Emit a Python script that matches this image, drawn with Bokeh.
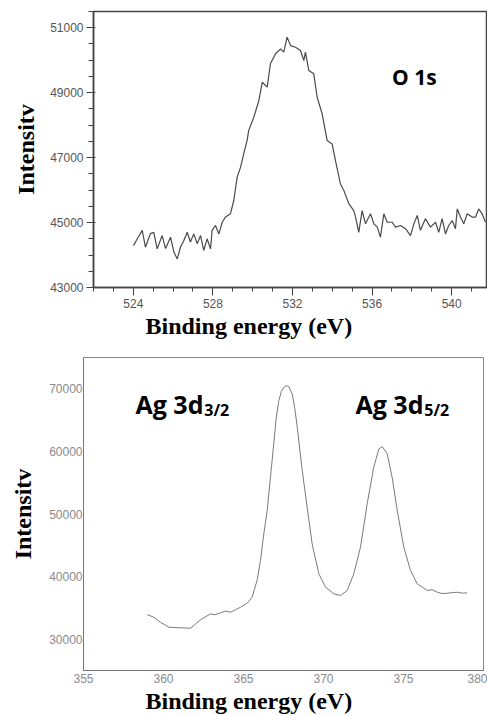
from bokeh.plotting import figure
from bokeh.models import Range1d, FixedTicker, Label, Title
from bokeh.layouts import column, row
from bokeh.embed import file_html
from bokeh.resources import INLINE

# ---------------- O 1s spectrum ----------------
o1s_energy = [524.01, 524.20, 524.45, 524.61, 524.86, 525.03, 525.20, 525.45, 525.62, 525.87,
              526.04, 526.21, 526.37, 526.54, 526.71, 526.87, 527.04, 527.21, 527.38, 527.54,
              527.71, 527.88, 527.96, 528.13, 528.30, 528.47, 528.63, 528.88, 529.05, 529.22,
              529.39, 529.55, 529.72, 529.80, 530.06, 530.31, 530.48, 530.73, 530.89, 531.15,
              531.40, 531.56, 531.73, 531.90, 532.15, 532.40, 532.57, 532.65, 532.82, 533.07,
              533.24, 533.49, 533.74, 533.99, 534.16, 534.41, 534.58, 534.83, 535.08, 535.17,
              535.33, 535.50, 535.67, 535.92, 536.09, 536.26, 536.42, 536.59, 536.76, 537.01,
              537.18, 537.43, 537.68, 537.93, 538.10, 538.27, 538.43, 538.68, 538.93, 539.19,
              539.35, 539.52, 539.69, 539.85, 540.03, 540.19, 540.28, 540.44, 540.61, 540.78,
              541.03, 541.20, 541.36, 541.53, 541.70]
o1s_intensity = [44290, 44500, 44760, 44240, 44660, 44700, 44190, 44600, 44200, 44550,
                 44090, 43880, 44240, 44450, 44700, 44400, 44650, 44350, 44600, 44140,
                 44500, 44190, 44760, 44910, 44650, 45010, 45170, 45270, 45680, 46400,
                 46700, 47120, 47530, 47840, 48250, 48760, 49320, 49170, 49890, 50200,
                 50350, 50250, 50710, 50450, 50400, 50300, 49990, 50250, 49680, 49580,
                 48860, 48350, 47530, 47420, 46910, 46190, 45990, 45580, 45370, 45170,
                 44700, 45370, 44960, 45270, 44960, 44860, 44550, 45270, 45010, 45010,
                 44860, 44910, 44810, 44600, 44960, 45220, 44760, 45120, 44860, 45010,
                 44700, 45120, 44650, 44910, 45060, 44810, 45420, 45170, 44960, 45270,
                 45170, 45170, 45420, 45270, 45010]
o1s_x_ticks = [524, 528, 532, 536, 540]
o1s_x_minor = list(range(522, 542))
o1s_y_ticks = [43000, 45000, 47000, 49000, 51000]
o1s_y_minor = list(range(43000, 51501, 500))

# ---------------- Ag 3d spectrum ----------------
ag_energy = [358.98, 359.39, 359.81, 360.33, 361.06, 361.69, 361.89, 362.31, 362.94, 363.20,
             363.56, 363.90, 364.19, 364.50, 364.81, 365.23, 365.54, 365.86, 366.06, 366.27,
             366.48, 366.89, 367.05, 367.21, 367.37, 367.52, 367.68, 367.83, 368.04, 368.20,
             368.36, 368.67, 368.98, 369.29, 369.71, 370.13, 370.65, 371.06, 371.48, 371.89,
             372.31, 372.73, 373.14, 373.46, 373.67, 373.98, 374.29, 374.61, 375.02, 375.44,
             375.86, 376.48, 376.80, 377.11, 377.40, 377.73, 378.05, 378.36, 378.70, 378.98]
ag_intensity = [33940, 33510, 32710, 31920, 31820, 31760, 32190, 33100, 34050, 33900,
                34210, 34500, 34310, 34700, 35110, 35750, 36710, 39500, 42570, 46830,
                50550, 61200, 65500, 68120, 69600, 70240, 70500, 70350, 69190, 67000,
                63860, 56940, 51080, 45230, 40440, 38300, 37250, 36980, 37780, 40440,
                44690, 51620, 57470, 60400, 60770, 59610, 55870, 50550, 44690, 40970,
                38850, 37780, 37900, 37500, 37300, 37340, 37450, 37500, 37350, 37410]
ag_x_ticks = [355, 360, 365, 370, 375, 380]
ag_y_ticks = [30000, 40000, 50000, 60000, 70000]

SERIF = "Liberation Serif"
SANS = "Liberation Sans"

# ---------------- top figure ----------------
p1 = figure(width=487, height=340, output_backend="svg", toolbar_location=None,
            x_range=Range1d(522, 541.8), y_range=Range1d(43000, 51500),
            min_border_left=93, min_border_right=0, min_border_top=11, min_border_bottom=53)
# frame box: its right side falls on the page edge, as in the cut-off reference
p1.outline_line_color = "#444444"
p1.outline_line_width = 1.5
p1.grid.visible = False
p1.line(o1s_energy, o1s_intensity, line_color="#4a4a4a", line_width=1.2)

xa = p1.below[0]
xa.ticker = FixedTicker(ticks=o1s_x_ticks, minor_ticks=o1s_x_minor)
xa.axis_line_color = "#444444"
xa.axis_line_width = 1.5
xa.major_tick_out = 8
xa.major_tick_in = 0
xa.minor_tick_out = 4
xa.minor_tick_in = 0
xa.major_tick_line_color = "#444444"
xa.minor_tick_line_color = "#444444"
xa.major_label_text_font = SANS
xa.major_label_text_font_size = "12px"
xa.major_label_text_color = "#555555"
xa.major_label_standoff = 3

ya = p1.left[0]
ya.ticker = FixedTicker(ticks=o1s_y_ticks, minor_ticks=o1s_y_minor)
ya.axis_line_color = "#444444"
ya.axis_line_width = 1.5
ya.major_tick_out = 7
ya.major_tick_in = 2
ya.minor_tick_out = 5
ya.minor_tick_in = 0
ya.major_tick_line_color = "#444444"
ya.minor_tick_line_color = "#444444"
ya.major_label_text_font = SANS
ya.major_label_text_font_size = "12px"
ya.major_label_text_color = "#555555"
ya.major_label_standoff = 3
ya.axis_label = "Intensitv"
ya.axis_label_text_font = SERIF
ya.axis_label_text_font_style = "bold"
ya.axis_label_text_font_size = "24px"
ya.axis_label_text_color = "black"
ya.axis_label_standoff = 8

p1.add_layout(Label(x=537.0, y=49470, text="O 1s", text_font="Open Sans",
                    text_font_style="bold", text_font_size="21px", text_color="black",
                    text_baseline="alphabetic"))
p1.add_layout(Title(text="Binding energy (eV)", align="left", offset=52, standoff=0,
                    text_font=SERIF, text_font_style="bold", text_font_size="24px",
                    text_color="black"), "below")

# ---------------- bottom figure ----------------
p2 = figure(width=487, height=375, output_backend="svg", toolbar_location=None,
            x_range=Range1d(355, 380), y_range=Range1d(25000, 75000),
            min_border_left=83, min_border_right=4, min_border_top=17, min_border_bottom=45)
p2.outline_line_color = "#888888"
p2.outline_line_width = 1
p2.grid.visible = False
p2.line(ag_energy, ag_intensity, line_color="#7a7a7a", line_width=1.0)

for ax, ticks in ((p2.below[0], ag_x_ticks), (p2.left[0], ag_y_ticks)):
    ax.ticker = FixedTicker(ticks=ticks)
    ax.axis_line_color = "#777777"
    ax.major_tick_line_color = None
    ax.minor_tick_line_color = None
    ax.major_tick_out = 0
    ax.major_tick_in = 0
    ax.minor_tick_out = 0
    ax.minor_tick_in = 0
    ax.major_label_text_font = SANS
    ax.major_label_text_font_size = "12px"
    ax.major_label_text_color = "#8a8a8a"
p2.below[0].major_label_standoff = 3
p2.left[0].major_label_standoff = 1
p2.left[0].axis_label = "Intensitv"
p2.left[0].axis_label_text_font = SERIF
p2.left[0].axis_label_text_font_style = "bold"
p2.left[0].axis_label_text_font_size = "24px"
p2.left[0].axis_label_text_color = "black"
p2.left[0].axis_label_standoff = 10

p2.add_layout(Label(x=358.25, y=67640, text="Ag 3d", text_font="Open Sans",
                    text_font_style="bold", text_font_size="25px", text_color="black",
                    text_baseline="alphabetic"))
p2.add_layout(Label(x=362.55, y=66580, text="3/2", text_font="Open Sans",
                    text_font_style="bold", text_font_size="16px", text_color="black",
                    text_baseline="alphabetic"))
p2.add_layout(Label(x=372.0, y=67640, text="Ag 3d", text_font="Open Sans",
                    text_font_style="bold", text_font_size="25px", text_color="black",
                    text_baseline="alphabetic"))
p2.add_layout(Label(x=376.3, y=66580, text="5/2", text_font="Open Sans",
                    text_font_style="bold", text_font_size="16px", text_color="black",
                    text_baseline="alphabetic"))
p2.add_layout(Title(text="Binding energy (eV)", align="left", offset=62, standoff=0,
                    text_font=SERIF, text_font_style="bold", text_font_size="24px",
                    text_color="black"), "below")

layout = column(row(p1), row(p2))
open("out.html", "w").write(file_html(layout, INLINE))
